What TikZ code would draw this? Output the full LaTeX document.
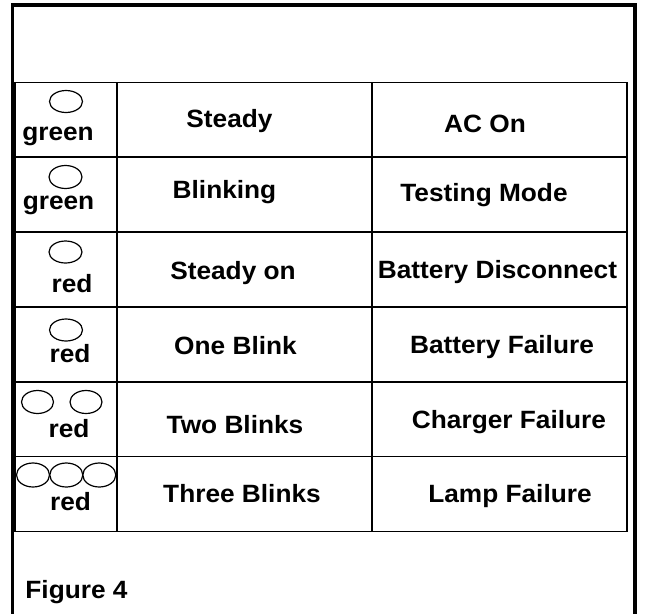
\documentclass[tikz,border=0pt]{standalone}
\usepackage{fontspec}
\setmainfont{Liberation Sans}[FakeStretch=1.05]
\begin{document}
\begin{tikzpicture}[x=1pt,y=-1pt,
  txt/.style={anchor=base,inner sep=0pt,font=\fontsize{25}{30}\selectfont\bfseries},
  grid/.style={line width=1.5pt},
  frame/.style={line width=3.6pt},
  lamp/.style={line width=1.2pt}]
\useasboundingbox (0,0) rectangle (645,613);
% outer frame (open at bottom)
\draw[frame] (12.5,620) -- (12.5,5) -- (635,5) -- (635,620);
% table
\draw[grid] (15,82.5) rectangle (627,531.5);
\foreach \y in {157,232,307,382,456.5} \draw[grid] (15,\y) -- (627,\y);
\draw[grid] (117,82.5) -- (117,531.5);
\draw[grid] (372,82.5) -- (372,531.5);
% lamps
\draw[lamp] (66,101.5) ellipse (16.5 and 11);
\draw[lamp] (65.5,177) ellipse (16.5 and 11.5);
\draw[lamp] (65.5,252) ellipse (16.5 and 11);
\draw[lamp] (66,330) ellipse (16.5 and 11);
\draw[lamp] (37.5,402) ellipse (16 and 11.5);
\draw[lamp] (86,402) ellipse (16 and 11.5);
\draw[lamp] (33,475) ellipse (16.5 and 12);
\draw[lamp] (66.3,475) ellipse (16.5 and 12);
\draw[lamp] (99.3,475) ellipse (16.5 and 12);
% colour labels
\node[txt] (c1) at (58,140) {green};
\node[txt] (c2) at (58.5,209) {green};
\node[txt] (c3) at (72,292) {red};
\node[txt] (c4) at (70,362) {red};
\node[txt] (c5) at (69,437) {red};
\node[txt] (c6) at (70.5,510) {red};
% mode labels
\node[txt] (m1) at (229.5,127.5) {Steady};
\node[txt] (m2) at (224.5,198.5) {Blinking};
\node[txt] (m3) at (233,279) {Steady on};
\node[txt] (m4) at (235.5,354) {One Blink};
\node[txt] (m5) at (235,433) {Two Blinks};
\node[txt] (m6) at (242,502) {Three Blinks};
% meaning labels
\node[txt] (s1) at (485,132) {AC On};
\node[txt] (s2) at (484,201.5) {Testing Mode};
\node[txt] (s3) at (497.5,278) {Battery Disconnect};
\node[txt] (s4) at (502,353) {Battery Failure};
\node[txt] (s5) at (509,428) {Charger Failure};
\node[txt] (s6) at (510,502) {Lamp Failure};
% caption
\node[txt] (fig) at (76.5,598) {Figure 4};
\end{tikzpicture}
\end{document}
